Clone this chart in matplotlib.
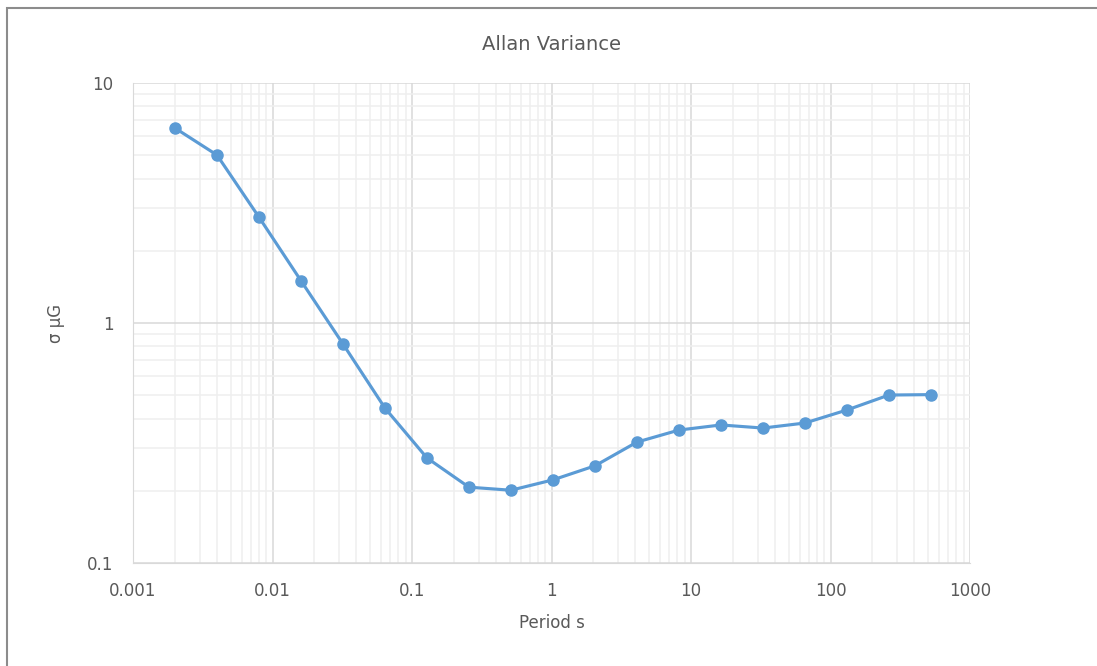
import numpy as np
import matplotlib.pyplot as plt
from matplotlib.patches import Rectangle

plt.rcParams['font.family'] = ['DejaVu Sans']

# データ
period = [0.002, 0.004, 0.008, 0.016, 0.032, 0.064, 0.128, 0.256, 0.512, 1.024,
          2.048, 4.096, 8.192, 16.384, 32.768, 65.536, 131.072, 262.144, 524.288]
sigma = [6.49, 5.01, 2.76, 1.50, 0.818, 0.442, 0.274, 0.207, 0.201, 0.222,
         0.254, 0.319, 0.358, 0.376, 0.365, 0.383, 0.434, 0.501, 0.503]
xticks = [0.001, 0.01, 0.1, 1, 10, 100, 1000]
xticklabels = ['0.001', '0.01', '0.1', '1', '10', '100', '1000']
yticks = [0.1, 1, 10]
yticklabels = ['0.1', '1', '10']

txt = '#595959'
fig = plt.figure(figsize=(10.97, 6.66), dpi=100)
fig.patches.append(Rectangle((7/1097, -0.1), 1.2, 1 - 8/666 + 0.1, transform=fig.transFigure,
                             fill=False, edgecolor='#8c8c8c', linewidth=1.5))
ax = fig.add_axes([133/1097, 1 - 563/666, (970 - 133)/1097, (563 - 83)/666])

# グラフの描画
ax.plot(period, sigma, color='#5b9bd5', linewidth=2.25, marker='o', markersize=8, zorder=3)
ax.set_xscale('log')
ax.set_yscale('log')
ax.set_xlim(0.001, 1000)
ax.set_ylim(0.1, 10)
ax.set_xticks(xticks)
ax.set_xticklabels(xticklabels)
ax.set_yticks(yticks)
ax.set_yticklabels(yticklabels)
ax.grid(which='major', color='#d9d9d9', linewidth=1.1)
ax.grid(which='minor', color='#efefef', linewidth=1.1)
ax.set_axisbelow(True)
ax.tick_params(which='both', length=0, labelsize=12, labelcolor=txt)
ax.tick_params(axis='x', pad=14)
ax.tick_params(axis='y', pad=14)
for s in ax.spines.values():
    s.set_visible(False)
ax.spines['bottom'].set_visible(True)
ax.spines['bottom'].set_color('#d9d9d9')
ax.spines['left'].set_visible(True)
ax.spines['left'].set_color('#d9d9d9')
ax.set_title('Allan Variance', fontsize=14, color=txt, pad=24)
ax.set_xlabel('Period s', fontsize=12, color=txt, labelpad=10)
ax.set_ylabel('σ μG', fontsize=12, color=txt, labelpad=16)

plt.savefig('out.png', dpi=100)
